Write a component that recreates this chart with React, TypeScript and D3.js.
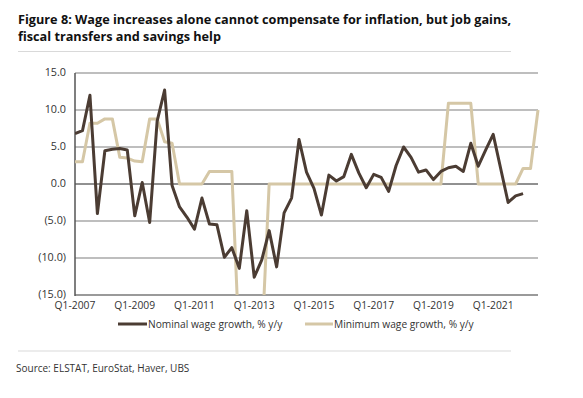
import React from "react";
import * as d3 from "d3";

const years = d3.range(2007, 2023);
const categories: string[] = [];
years.forEach((y) => [1, 2, 3, 4].forEach((q) => categories.push(`Q${q}-${y}`)));
const quarters = categories.slice(0, 63); // Q1-2007 .. Q3-2022

const tickLabels = ["Q1-2007", "Q1-2009", "Q1-2011", "Q1-2013", "Q1-2015", "Q1-2017", "Q1-2019", "Q1-2021"];
const yTicks = [15, 10, 5, 0, -5, -10, -15];

const nominalWage = [
  6.8, 7.2, 12.0, -4.0, 4.5, 4.7, 4.8, 4.6, -4.3, 0.2,
  -5.2, 8.5, 12.7, -0.2, -3.1, -4.5, -6.1, -1.9, -5.4, -5.5,
  -9.9, -8.6, -11.4, -3.6, -12.6, -10.3, -6.3, -11.2, -3.9, -1.9,
  6.0, 1.6, -0.6, -4.2, 1.2, 0.4, 1.0, 4.0, 1.5, -0.5,
  1.3, 0.9, -1.0, 2.5, 5.0, 3.6, 1.6, 1.9, 0.6, 1.7,
  2.2, 2.4, 1.7, 5.5, 2.4, 4.6, 6.7, 2.1, -2.5, -1.6, -1.3,
];

const minimumWage = [
  3.0, 3.0, 8.2, 8.2, 8.8, 8.8, 3.6, 3.5, 3.1, 3.0, 8.8, 8.8, 5.7, 5.5,
  0, 0, 0, 0,
  1.7, 1.7, 1.7, 1.7,
  -22, -22, -22, -22,
  0, 0, 0, 0, 0, 0, 0, 0, 0, 0, 0, 0, 0, 0, 0, 0, 0, 0, 0, 0, 0, 0, 0, 0,
  10.9, 10.9, 10.9, 10.9,
  0, 0, 0, 0, 0, 0,
  2.1, 2.1,
  10.0,
];

const seriesNames = ["Nominal wage growth, % y/y", "Minimum wage growth, % y/y"];
const colors = ["#4b3c33", "#d5c7a6"];

const fmt = (v: number) => (v < 0 ? `(${Math.abs(v).toFixed(1)})` : v.toFixed(1));

export default function App() {
  const W = 583, H = 398;
  const left = 75, right = 538, top = 73, bottom = 295;
  const x = d3.scalePoint<string>().domain(quarters).range([left, right]);
  const y = d3.scaleLinear().domain([-15, 15]).range([bottom, top]);
  const line = d3
    .line<number>()
    .x((_, i) => x(quarters[i]) as number)
    .y((d) => y(d));
  const font = "'Open Sans', 'Noto Sans', sans-serif";

  return (
    <svg width={W} height={H} style={{ position: "absolute", left: 0, top: 0, background: "#fff" }} fontFamily={font}>
      <defs>
        <clipPath id="plot">
          <rect x={left} y={top - 5} width={right - left + 5} height={bottom - top + 5} />
        </clipPath>
      </defs>
      <text x={18} y={24} fontSize={12.7} fontWeight={700} fill="#111">
        Figure 8: Wage increases alone cannot compensate for inflation, but job gains,
      </text>
      <text x={18} y={41} fontSize={12.7} fontWeight={700} fill="#111">
        fiscal transfers and savings help
      </text>
      <line x1={18} x2={511} y1={51.5} y2={51.5} stroke="#d9d9d9" strokeWidth={1} />

      {yTicks.map((t) => (
        <g key={t}>
          {t !== 0 && (
            <line x1={left} x2={right} y1={y(t)} y2={y(t)} stroke={t === -15 ? "#9a9a9a" : "#7f7f7f"} strokeWidth={t === -15 ? 2 : 1.2} />
          )}
          <text x={66} y={y(t) - 1} dy="0.35em" textAnchor="end" fontSize={10.8} fill="#333">
            {fmt(t)}
          </text>
        </g>
      ))}
      <line x1={left} x2={right} y1={y(0)} y2={y(0)} stroke="#222" strokeWidth={1} />
      <line x1={left} x2={left} y1={top} y2={bottom + 1} stroke="#555" strokeWidth={1.5} />

      <g clipPath="url(#plot)">
        <path d={line(minimumWage) || ""} fill="none" stroke={colors[1]} strokeWidth={3} strokeLinejoin="round" />
        <path d={line(nominalWage) || ""} fill="none" stroke={colors[0]} strokeWidth={3} strokeLinejoin="round" />
      </g>

      {tickLabels.map((l) => (
        <text key={l} x={x(l)} y={309} textAnchor="middle" fontSize={10.3} fill="#333">
          {l}
        </text>
      ))}

      <g>
        <line x1={118} x2={147} y1={324} y2={324} stroke={colors[0]} strokeWidth={3} />
        <text x={148} y={324} dy="0.35em" fontSize={10.2} fill="#333">{seriesNames[0]}</text>
        <line x1={305} x2={333} y1={324} y2={324} stroke={colors[1]} strokeWidth={3} />
        <text x={334} y={324} dy="0.35em" fontSize={10.2} fill="#333">{seriesNames[1]}</text>
      </g>

      <line x1={18} x2={511} y1={351} y2={351} stroke="#d9d9d9" strokeWidth={1} />
      <text x={16} y={372} fontSize={10} fill="#333">
        Source: ELSTAT, EuroStat, Haver, UBS
      </text>
    </svg>
  );
}
